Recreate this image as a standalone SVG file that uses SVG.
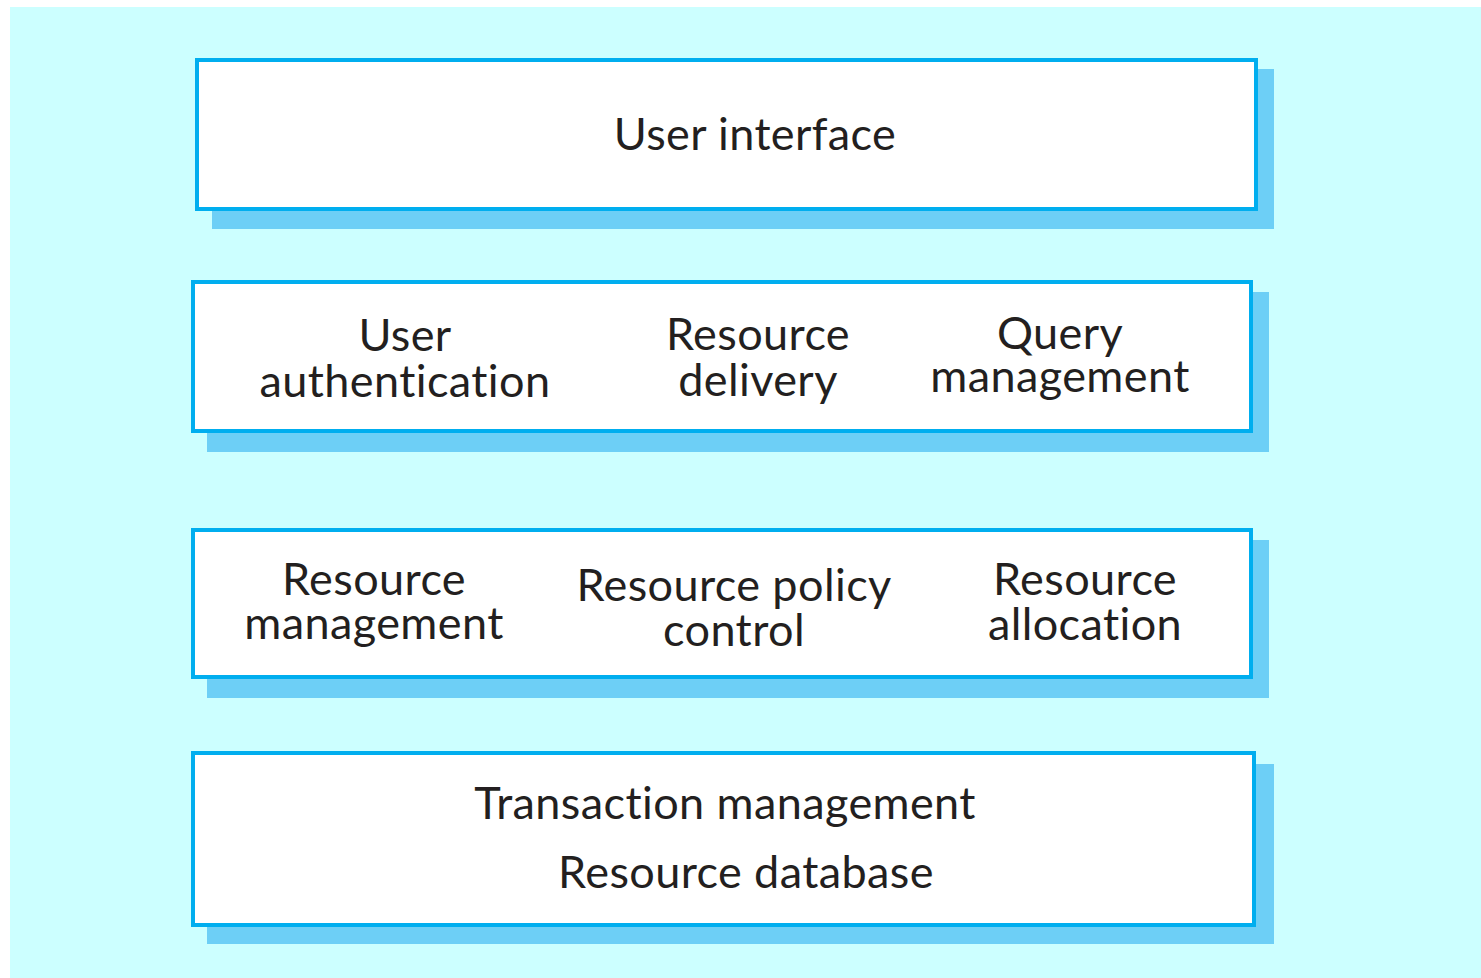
<svg xmlns="http://www.w3.org/2000/svg" width="1481" height="978" viewBox="0 0 1481 978">
<style>
.bg{fill:#CCFFFF}
.shadow{fill:#6DCFF6}
.box{fill:#FFFFFF;stroke:#00AEEF;stroke-width:4}
.t{font-family:Lato,"Liberation Sans",sans-serif;font-size:45px;letter-spacing:0.4px;fill:#231F20;text-anchor:middle}
</style>
<rect class="bg" x="10" y="7" width="1471" height="971"/>
<g id="layer-ui">
<rect class="shadow" x="212" y="69" width="1062" height="160"/>
<rect class="box" x="197" y="60" width="1059" height="149"/>
<text class="t" x="755" y="150">User interface</text>
</g>
<g id="layer-2">
<rect class="shadow" x="207" y="292" width="1062" height="160"/>
<rect class="box" x="193" y="282" width="1058" height="149"/>
<g id="user-auth"><text class="t" x="405" y="351">User<tspan x="405" y="397">authentication</tspan></text></g>
<g id="resource-delivery"><text class="t" x="758" y="350">Resource<tspan x="758" y="396">delivery</tspan></text></g>
<g id="query-mgmt"><text class="t" x="1060" y="349">Query<tspan x="1060" y="392">management</tspan></text></g>
</g>
<g id="layer-3">
<rect class="shadow" x="207" y="540" width="1062" height="158"/>
<rect class="box" x="193" y="530" width="1058" height="147"/>
<g id="resource-mgmt"><text class="t" x="374" y="595">Resource<tspan x="374" y="639">management</tspan></text></g>
<g id="resource-policy"><text class="t" x="734" y="601">Resource policy<tspan x="734" y="646">control</tspan></text></g>
<g id="resource-alloc"><text class="t" x="1085" y="595">Resource<tspan x="1085" y="640">allocation</tspan></text></g>
</g>
<g id="layer-db">
<rect class="shadow" x="207" y="764" width="1067" height="180"/>
<rect class="box" x="193" y="753" width="1061" height="172"/>
<text class="t" x="725" y="819">Transaction management</text>
<text class="t" x="746" y="888">Resource database</text>
</g>
<g id="connectors"/>
</svg>
